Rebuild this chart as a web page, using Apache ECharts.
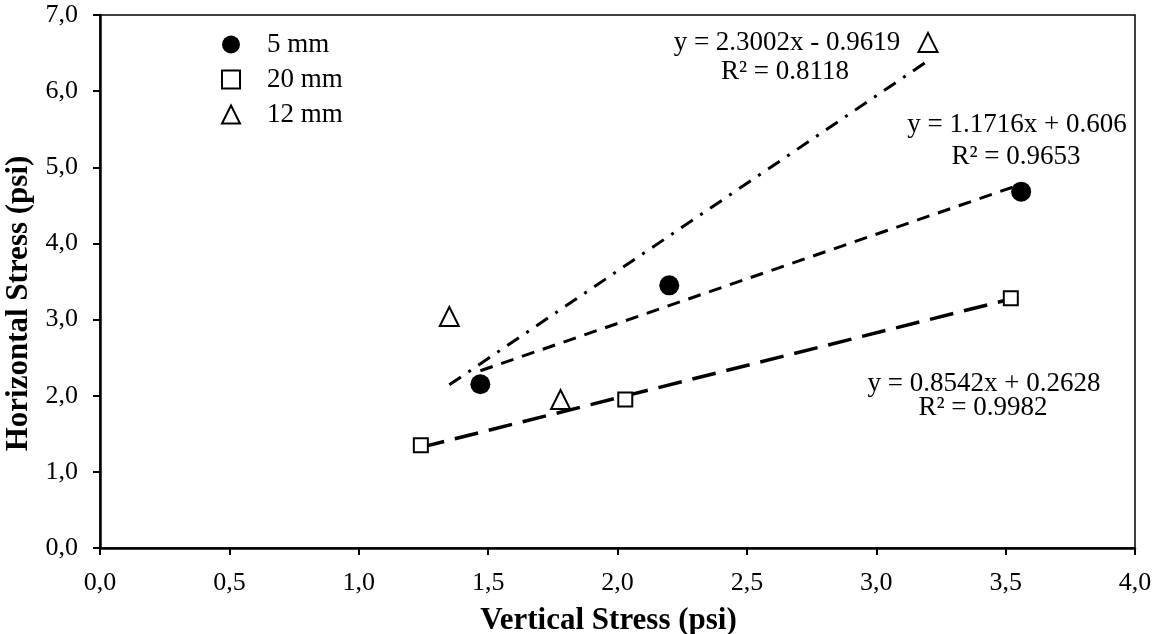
<!DOCTYPE html>
<html>
<head>
<meta charset="utf-8">
<script src="https://cdn.jsdelivr.net/npm/echarts@6/dist/echarts.min.js"></script>
<style>html,body{margin:0;padding:0;background:#fff;}#c{width:1159px;height:634px;}</style>
</head>
<body>
<div id="c"></div>
<script>
// Data
const seriesNames = ['5 mm', '20 mm', '12 mm'];
const pts5mm  = [[1.47, 2.15], [2.20, 3.45], [3.56, 4.68]];
const pts20mm = [[1.24, 1.35], [2.03, 1.95], [3.52, 3.28]];
const pts12mm = [[1.35, 3.04], [1.78, 1.95], [3.20, 6.64]];
// Trendline end points (as drawn)
const trend5mm  = [[1.47, 2.328], [3.56, 4.777]];
const trend20mm = [[1.24, 1.322], [3.52, 3.270]];
const trend12mm = [[1.35, 2.143], [3.19, 6.376]];
const eqTexts = [
  ['y = 2.3002x - 0.9619', 'R² = 0.8118'],
  ['y = 1.1716x + 0.606', 'R² = 0.9653'],
  ['y = 0.8542x + 0.2628', 'R² = 0.9982']
];
const xTicks = [0, 0.5, 1, 1.5, 2, 2.5, 3, 3.5, 4];
const yTicks = [0, 1, 2, 3, 4, 5, 6, 7];

const FONT = '"Liberation Serif", "Times New Roman", serif';
const fmt = v => v.toFixed(1).replace('.', ',');

const chart = echarts.init(document.getElementById('c'), null, {renderer: 'canvas'});
const eqStyle = {fontFamily: FONT, fontSize: 27, fill: '#000', textAlign: 'center', textVerticalAlign: 'middle'};
const eqPos = [[787, 43], [785, 72], [1017, 125], [1016, 157], [984, 384], [983, 408]];
const graphics = [];
eqTexts.forEach((pair, i) => pair.forEach((t, j) => {
  const p = eqPos[i * 2 + j];
  graphics.push({type: 'text', x: p[0], y: p[1], z: 10, style: Object.assign({text: t}, eqStyle)});
}));

chart.setOption({
  animation: false,
  backgroundColor: '#fff',
  grid: {left: 100, top: 15, right: 24, bottom: 86, containLabel: false, outerBoundsMode: 'none',
         show: true, borderColor: '#000', borderWidth: 1.5, backgroundColor: 'transparent'},
  xAxis: {
    type: 'value', min: xTicks[0], max: xTicks[xTicks.length - 1], interval: 0.5,
    name: 'Vertical Stress (psi)', nameLocation: 'middle', nameGap: 57,
    nameTextStyle: {fontFamily: FONT, fontSize: 31, fontWeight: 'bold', color: '#000', padding: [0, 18, 0, 0]},
    axisLine: {lineStyle: {color: '#000', width: 2.5}},
    axisTick: {show: true, inside: false, length: 7, lineStyle: {color: '#000', width: 2}},
    axisLabel: {fontFamily: FONT, fontSize: 26, color: '#000', margin: 22, formatter: fmt},
    splitLine: {show: false}
  },
  yAxis: {
    type: 'value', min: yTicks[0], max: yTicks[yTicks.length - 1], interval: 1,
    name: 'Horizontal Stress (psi)', nameLocation: 'middle', nameGap: 46,
    nameTextStyle: {fontFamily: FONT, fontSize: 31, fontWeight: 'bold', color: '#000', padding: [0, 44, 0, 0]},
    axisLine: {lineStyle: {color: '#000', width: 2.5}},
    axisTick: {show: true, inside: false, length: 7, lineStyle: {color: '#000', width: 2}},
    axisLabel: {fontFamily: FONT, fontSize: 26, color: '#000', margin: 22, formatter: fmt},
    splitLine: {show: false}
  },
  legend: {
    orient: 'vertical', left: 216, top: 26, itemWidth: 18, itemHeight: 18, itemGap: 8,
    data: seriesNames,
    textStyle: {fontFamily: FONT, fontSize: 27, color: '#000', lineHeight: 20, padding: [0, 0, 0, 22]}
  },
  series: [
    {name: 'trend12', type: 'line', data: trend12mm, showSymbol: false, silent: true, z: 2,
     lineStyle: {color: '#000', width: 3, type: [14, 9, 3, 9]}},
    {name: 'trend5', type: 'line', data: trend5mm, showSymbol: false, silent: true, z: 2,
     lineStyle: {color: '#000', width: 3, type: [13, 9]}},
    {name: 'trend20', type: 'line', data: trend20mm, showSymbol: false, silent: true, z: 2,
     lineStyle: {color: '#000', width: 3.5, type: [24, 11]}},
    {name: seriesNames[0], type: 'scatter', data: pts5mm, symbol: 'circle', symbolSize: 20, z: 3,
     itemStyle: {color: '#000', borderColor: '#000', borderWidth: 0, opacity: 1}},
    {name: seriesNames[1], type: 'scatter', data: pts20mm, symbol: 'rect', symbolSize: 14, z: 3,
     itemStyle: {color: '#fff', borderColor: '#000', borderWidth: 2, opacity: 1}},
    {name: seriesNames[2], type: 'scatter', data: pts12mm, symbol: 'triangle', symbolSize: 19, z: 3,
     itemStyle: {color: '#fff', borderColor: '#000', borderWidth: 2, opacity: 1}}
  ],
  graphic: graphics
});
</script>
</body>
</html>
